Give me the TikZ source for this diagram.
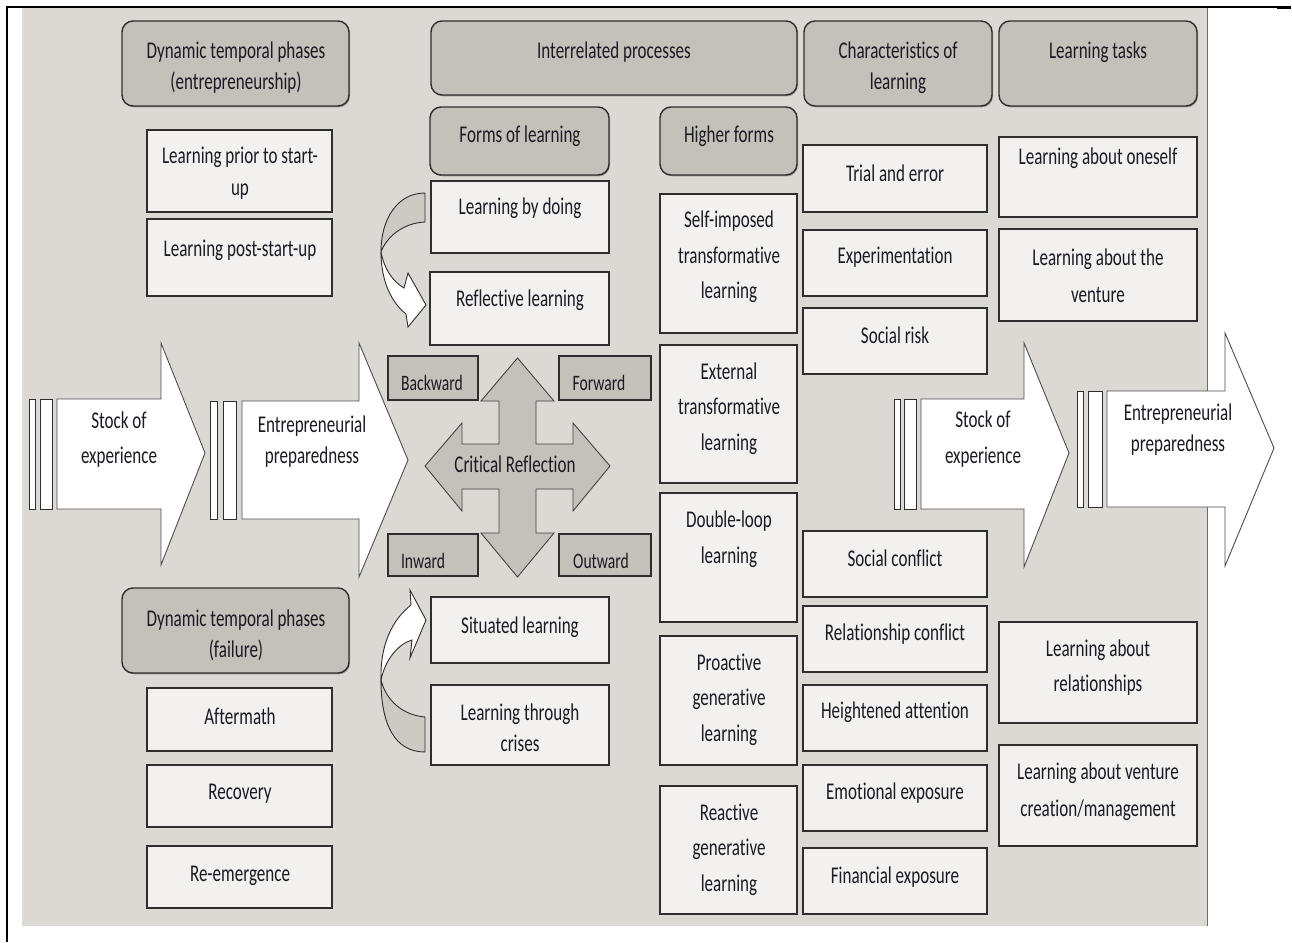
\documentclass[tikz,border=0pt]{standalone}
\usepackage{fontspec}
\setmainfont{Carlito}[FakeStretch=0.71, Ligatures={NoCommon}]
\usetikzlibrary{shadows}

\definecolor{panel}{HTML}{DCD9D4}
\definecolor{hdr}{HTML}{C4C1BA}
\definecolor{pale}{HTML}{F2F1EF}
\definecolor{edge}{HTML}{2E2E2E}
\definecolor{ink}{HTML}{1A1A24}

\tikzset{
  % place a box by its two corners (x1,y1) and (x2,y2)
  span/.style n args={4}{at={({(#1+#3)/2},{(#2+#4)/2})},
    minimum width={(#3-#1)*1pt}, minimum height={(#4-#2)*1pt}},
  boxbase/.style={draw=edge, line width=1.4pt, inner sep=0pt, rectangle,
    drop shadow={shadow xshift=1pt, shadow yshift=-1.3pt, opacity=0.3, fill=black}},
  wbox/.style={boxbase, fill=pale},
  hbox/.style={boxbase, fill=hdr, rounded corners=11pt},
  tagbox/.style={boxbase, fill=hdr},
  txt/.style={font=\fontsize{24}{32}\selectfont, text=ink, align=center, inner sep=0pt, yshift=-1.5pt},
  lh/.style={font=\fontsize{24}{#1}\selectfont},
  small/.style={font=\fontsize{22}{26}\selectfont},
  bigarrow/.style={fill=white, draw=edge!85, line width=0.9pt, line join=miter},
  stripe/.style={fill=white, draw=edge, line width=1pt},
  cross/.style={fill=hdr, draw=edge!90, line width=0.9pt},
  turnback/.style={fill=hdr!85!white, draw=edge, line width=0.9pt},
  turnfront/.style={fill=white, draw=edge, line width=0.9pt},
}

\begin{document}
\begin{tikzpicture}[x=1pt, y=-1pt]
\useasboundingbox (0,0) rectangle (1292,942);

% background panel and frame
\fill[panel] (22,8) rectangle (1207,926);
\draw[edge!70, line width=0.9pt] (1207,8) -- (1207,926);
\draw[black, line width=1.6pt] (7,942) -- (7,7) -- (1290,7);
\draw[black, line width=2.6pt] (1277,7.5) -- (1291,7.5);

% left block arrows
\draw[stripe] (29,399) rectangle (35,509);
\draw[stripe] (40,399) rectangle (52,509);
\draw[bigarrow] (57,399) -- (161,399) -- (161,343) -- (205,453) -- (161,565) -- (161,509) -- (57,509) -- cycle;
\draw[stripe] (210,401) rectangle (217,519);
\draw[stripe] (223,401) rectangle (236,519);
\draw[bigarrow] (242,401) -- (359,401) -- (359,343) -- (408,460) -- (359,577) -- (359,519) -- (242,519) -- cycle;

% right block arrows
\draw[stripe] (894,399) rectangle (900,509);
\draw[stripe] (904,399) rectangle (916,509);
\draw[bigarrow] (921,399) -- (1024,399) -- (1024,343) -- (1069,453) -- (1024,567) -- (1024,509) -- (921,509) -- cycle;
\draw[stripe] (1077,391) rectangle (1083,507);
\draw[stripe] (1088,391) rectangle (1102,507);
\draw[bigarrow] (1107,391) -- (1225,391) -- (1225,333) -- (1274,448) -- (1225,566) -- (1225,507) -- (1107,507) -- cycle;

% four-way arrow
\draw[cross] (517.5,358) -- (554,401) -- (536,401) -- (536,444) -- (573,444) -- (573,423)
  -- (610,466) -- (573,511) -- (573,489) -- (536,489) -- (536,533) -- (554,533)
  -- (517.5,577) -- (481,533) -- (499,533) -- (499,489) -- (462,489) -- (462,511)
  -- (425,466) -- (462,423) -- (462,444) -- (499,444) -- (499,401) -- (481,401) -- cycle;

% direction tags
\node[tagbox, span={388}{356}{478}{400}] (back) {};
\node[tagbox, span={559}{356}{651}{400}] (fwd) {};
\node[tagbox, span={388}{534}{478}{576}] (inw) {};
\node[tagbox, span={559}{534}{651}{576}] (outw) {};

% header boxes
\node[hbox, span={122}{21}{349}{106}] (hEnt) {};
\node[hbox, span={431}{21}{797}{95}] (hProc) {};
\node[hbox, span={804}{21}{992}{106}] (hChar) {};
\node[hbox, span={999}{21}{1197}{106}] (hTask) {};
\node[hbox, span={430}{107}{609}{175}] (hForms) {};
\node[hbox, span={660}{107}{797}{175}] (hHigher) {};
\node[hbox, span={122}{588}{349}{673}] (hFail) {};

% phases
\node[wbox, span={147}{130}{332}{212}] (pre) {};
\node[wbox, span={147}{219}{332}{296}] (post) {};
\node[wbox, span={147}{688}{332}{751}] (after) {};
\node[wbox, span={147}{765}{332}{827}] (recov) {};
\node[wbox, span={147}{846}{332}{908}] (reem) {};

% forms of learning
\node[wbox, span={431}{181}{609}{253}] (doing) {};
\node[wbox, span={430}{272}{609}{345}] (reflect) {};
\node[wbox, span={431}{597}{609}{663}] (situ) {};
\node[wbox, span={431}{685}{609}{765}] (crises) {};

% higher forms
\node[wbox, span={660}{194}{797}{333}] (selfimp) {};
\node[wbox, span={660}{345}{797}{483}] (external) {};
\node[wbox, span={660}{493}{797}{622}] (dloop) {};
\node[wbox, span={660}{636}{797}{765}] (proact) {};
\node[wbox, span={660}{786}{797}{914}] (react) {};

% characteristics
\node[wbox, span={803}{145}{987}{212}] (trial) {};
\node[wbox, span={803}{230}{987}{296}] (exper) {};
\node[wbox, span={803}{308}{987}{374}] (srisk) {};
\node[wbox, span={803}{531}{987}{597}] (sconf) {};
\node[wbox, span={803}{606}{987}{672}] (rconf) {};
\node[wbox, span={803}{685}{987}{751}] (heigh) {};
\node[wbox, span={803}{765}{987}{831}] (emot) {};
\node[wbox, span={803}{848}{987}{914}] (fin) {};

% learning tasks
\node[wbox, span={999}{137}{1197}{217}] (oneself) {};
\node[wbox, span={999}{229}{1197}{321}] (venture) {};
\node[wbox, span={999}{622}{1197}{723}] (relat) {};
\node[wbox, span={999}{745}{1197}{846}] (create) {};

% curved arrow: learning by doing -> reflective learning
\draw[turnback] (425,193) .. controls (398,193) and (381,218) .. (381,252)
  .. controls (386,238) and (402,223) .. (425,222) -- cycle;
\draw[turnfront] (381,252) .. controls (381,282) and (392,303) .. (406,314)
  -- (408,327) -- (426,305) -- (408,273) -- (404,288)
  .. controls (392,281) and (384,268) .. (381,252) -- cycle;

% curved arrow: learning through crises -> situated learning
\draw[turnback] (425,752) .. controls (395,752) and (381,725) .. (381,680)
  .. controls (386,700) and (402,715) .. (425,717) -- cycle;
\draw[turnfront] (381,680) .. controls (380,645) and (392,620) .. (411,605)
  -- (410,590) -- (426,620) -- (410,658) -- (412,640)
  .. controls (398,644) and (385,660) .. (381,680) -- cycle;

% texts
\node[txt, lh=31] (tEnt) at (236,66.5) {Dynamic temporal phases\\(entrepreneurship)};
\node[txt] (tProc) at (614,51) {Interrelated processes};
\node[txt, lh=31] (tChar) at (898,66.5) {Characteristics of\\learning};
\node[txt] (tTask) at (1098,51) {Learning tasks};
\node[txt] (tForms) at (520,135) {Forms of learning};
\node[txt] (tHigher) at (729,135) {Higher forms};
\node[txt, lh=31] (tFail) at (236,633.5) {Dynamic temporal phases\\(failure)};

\node[txt] (tPre) at (240,172) {Learning prior to start-\\up};
\node[txt] (tPost) at (240,249) {Learning post-start-up};
\node[txt] (tAfter) at (240,715) {Aftermath};
\node[txt] (tRecov) at (240,792) {Recovery};
\node[txt] (tReem) at (240,874) {Re-emergence};

\node[txt] (tDoing) at (520,207) {Learning by doing};
\node[txt] (tReflect) at (520,299) {Reflective learning};
\node[txt] (tSitu) at (520,626) {Situated learning};
\node[txt, lh=31] (tCrises) at (520,726.5) {Learning through\\crises};

\node[txt, lh=35.5] (tSelf) at (729,255.5) {Self-imposed\\transformative\\learning};
\node[txt, lh=35.5] (tExt) at (729,407) {External\\transformative\\learning};
\node[txt, lh=35.5] (tDl) at (729,537.5) {Double-loop\\learning};
\node[txt, lh=35.5] (tPro) at (729,698) {Proactive\\generative\\learning};
\node[txt, lh=35.5] (tRea) at (729,848) {Reactive\\generative\\learning};

\node[txt] (tTrial) at (895,172) {Trial and error};
\node[txt] (tExper) at (895,256) {Experimentation};
\node[txt] (tSrisk) at (895,334) {Social risk};
\node[txt] (tSconf) at (895,557) {Social conflict};
\node[txt] (tRconf) at (895,633) {Relationship conflict};
\node[txt] (tHeigh) at (895,711) {Heightened attention};
\node[txt] (tEmot) at (895,792) {Emotional exposure};
\node[txt] (tFin) at (895,876) {Financial exposure};

\node[txt] (tOne) at (1098,157) {Learning about oneself};
\node[txt, lh=37] (tVen) at (1098,274.5) {Learning about the\\venture};
\node[txt, lh=35] (tRel) at (1098,666.5) {Learning about\\relationships};
\node[txt, lh=37] (tCre) at (1098,790.5) {Learning about venture\\creation/management};

\node[txt, small] (tBack) at (432,381) {Backward};
\node[txt, small] (tFwd) at (599,381) {Forward};
\node[txt, small] (tInw) at (423,559) {Inward};
\node[txt, small] (tOutw) at (601,559) {Outward};
\node[txt] (tCrit) at (515,463) {Critical Reflection};

\node[txt, lh=35] (tStock1) at (119,438.5) {Stock of\\experience};
\node[txt, lh=31] (tPrep1) at (312,440.5) {Entrepreneurial\\preparedness};
\node[txt, lh=36] (tStock2) at (983,438) {Stock of\\experience};
\node[txt, lh=31] (tPrep2) at (1178,428.5) {Entrepreneurial\\preparedness};
\end{tikzpicture}
\end{document}
